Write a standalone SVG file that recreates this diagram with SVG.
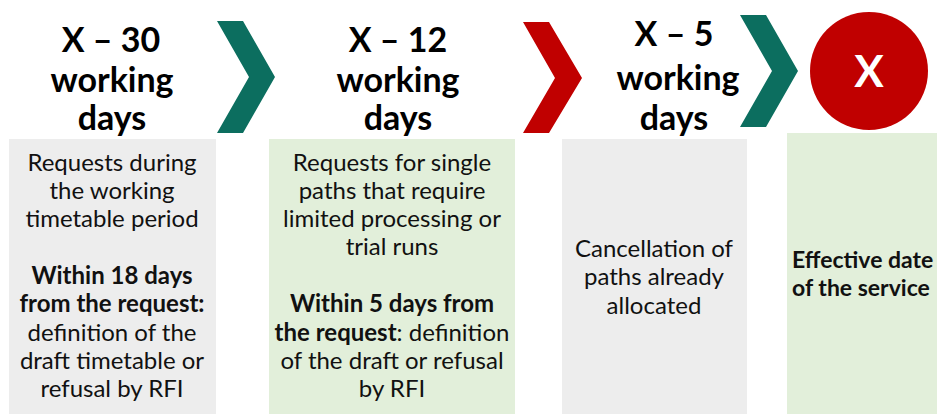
<svg xmlns="http://www.w3.org/2000/svg" width="937" height="414" viewBox="0 0 937 414">
<style>
.h{font-family:Lato,"Open Sans",sans-serif;font-weight:bold;font-size:34px;fill:#000;text-anchor:middle}
.b{font-family:Lato,"Open Sans",sans-serif;font-size:24px;fill:#111;text-anchor:middle}
.bb{font-weight:bold}
.gray{fill:#ededed}
.green{fill:#e2efda}
.chg{fill:#0c6e5f}
.chr{fill:#c00000}
</style>
<rect width="937" height="414" fill="#fff"/>
<g id="connectors">
<polygon class="chg" points="217,21 243,21 275,77 243,133 217,133 249,77"/>
<polygon class="chr" points="523,22 549,22 582,78 549,133 523,133 555,78"/>
<polygon class="chg" points="740,15 766,15 798,71 766,127 740,127 772,71"/>
</g>
<g id="step1">
<rect class="gray" x="9" y="139" width="207" height="275"/>
<text class="h" x="111" y="52">X – 30</text>
<text class="h" x="112" y="92">working</text>
<text class="h" x="112" y="130">days</text>
<text class="b" x="112" y="171">Requests during</text>
<text class="b" x="112" y="199">the working</text>
<text class="b" x="112" y="227">timetable period</text>
<text class="b bb" x="112" y="284">Within 18 days</text>
<text class="b bb" x="112" y="312">from the request:</text>
<text class="b" x="112" y="341">definition of the</text>
<text class="b" x="112" y="369">draft timetable or</text>
<text class="b" x="112" y="397">refusal by RFI</text>
</g>
<g id="step2">
<rect class="green" x="269" y="139" width="246" height="275"/>
<text class="h" x="398" y="52">X – 12</text>
<text class="h" x="398" y="92">working</text>
<text class="h" x="398" y="130">days</text>
<text class="b" x="392" y="171">Requests for single</text>
<text class="b" x="392" y="199">paths that require</text>
<text class="b" x="392" y="227">limited processing or</text>
<text class="b" x="392" y="255">trial runs</text>
<text class="b bb" x="392" y="312">Within 5 days from</text>
<text class="b" x="392" y="341"><tspan class="bb">the request</tspan>: definition</text>
<text class="b" x="392" y="369">of the draft or refusal</text>
<text class="b" x="392" y="397">by RFI</text>
</g>
<g id="step3">
<rect class="gray" x="562" y="139" width="185" height="275"/>
<text class="h" x="674" y="46">X – 5</text>
<text class="h" x="678" y="90">working</text>
<text class="h" x="674" y="130">days</text>
<text class="b" x="654" y="257">Cancellation of</text>
<text class="b" x="654" y="285">paths already</text>
<text class="b" x="654" y="314">allocated</text>
</g>
<g id="step4">
<rect class="green" x="787" y="133" width="150" height="281"/>
<circle cx="869" cy="71" r="59" fill="#c00000"/>
<text x="869" y="87" style="font-family:Lato,'Open Sans',sans-serif;font-weight:bold;font-size:44px;fill:#fff;text-anchor:middle">X</text>
<text class="b bb" x="792" y="268" style="text-anchor:start;font-size:23px">Effective date</text>
<text class="b bb" x="792" y="296" style="text-anchor:start;font-size:23px">of the service</text>
</g>
</svg>
